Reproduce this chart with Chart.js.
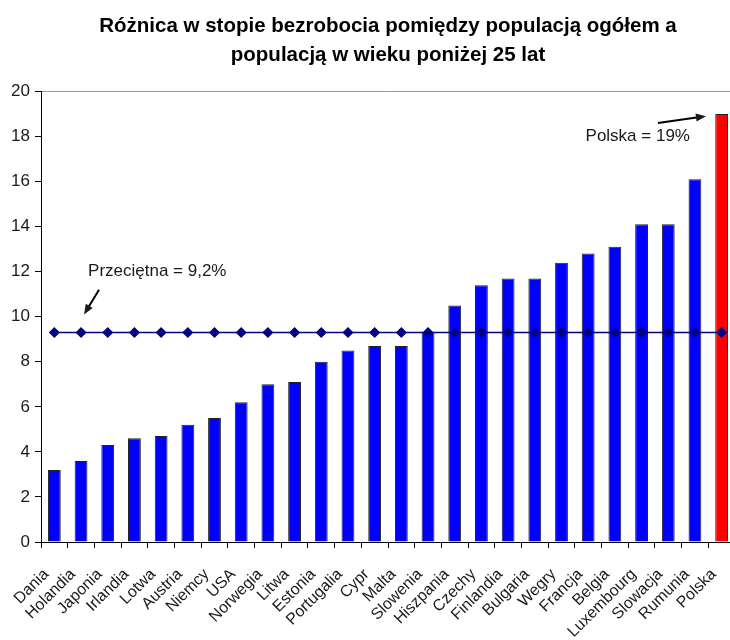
<!DOCTYPE html>
<html>
<head>
<meta charset="utf-8">
<script src="https://cdn.jsdelivr.net/npm/chart.js@4.4.0/dist/chart.umd.min.js"></script>
<style>
  html, body { margin: 0; padding: 0; background: #fff; overflow: hidden; }
</style>
</head>
<body>
<canvas id="chart" width="741" height="640"></canvas>
<script>
const countries = ['Dania', 'Holandia', 'Japonia', 'Irlandia', 'Lotwa', 'Austria', 'Niemcy', 'USA',
  'Norwegia', 'Litwa', 'Estonia', 'Portugalia', 'Cypr', 'Malta', 'Slowenia', 'Hiszpania', 'Czechy',
  'Finlandia', 'Bulgaria', 'Wegry', 'Francja', 'Belgia', 'Luxembourg', 'Slowacja', 'Rumunia', 'Polska'];
const gap = [3.2, 3.6, 4.3, 4.6, 4.7, 5.2, 5.5, 6.2, 7.0, 7.1, 8.0, 8.5, 8.7, 8.7, 9.3, 10.5, 11.4,
  11.7, 11.7, 12.4, 12.8, 13.1, 14.1, 14.1, 16.1, 19.0];
const average = countries.map(() => 9.3);
const yTicks = [0, 2, 4, 6, 8, 10, 12, 14, 16, 18, 20];

const FONT = '"Liberation Sans", Arial, sans-serif';

// strzałka z grotem na końcu
const drawArrow = (ctx, x1, y1, x2, y2) => {
  const a = Math.atan2(y2 - y1, x2 - x1);
  ctx.beginPath();
  ctx.moveTo(x1, y1);
  ctx.lineTo(x2 - 6 * Math.cos(a), y2 - 6 * Math.sin(a));
  ctx.stroke();
  ctx.beginPath();
  ctx.moveTo(x2, y2);
  ctx.lineTo(x2 - 10 * Math.cos(a) + 4 * Math.sin(a), y2 - 10 * Math.sin(a) - 4 * Math.cos(a));
  ctx.lineTo(x2 - 10 * Math.cos(a) - 4 * Math.sin(a), y2 - 10 * Math.sin(a) + 4 * Math.cos(a));
  ctx.closePath();
  ctx.fill();
};

const annotations = {
  id: 'annotations',
  afterDatasetsDraw(chart) {
    const { ctx, scales: { x, y } } = chart;
    ctx.save();
    ctx.fillStyle = '#1a1a1a';
    ctx.strokeStyle = '#000';
    ctx.lineWidth = 2;
    ctx.font = '17px ' + FONT;
    ctx.textBaseline = 'alphabetic';

    ctx.textAlign = 'left';
    ctx.fillText('Przeciętna = 9,2%', x.getPixelForValue(1) + 7, y.getPixelForValue(11.8));
    drawArrow(ctx, x.getPixelForValue(1) + 18, y.getPixelForValue(11.2),
      x.getPixelForValue(1) + 3, y.getPixelForValue(10.1));

    ctx.textAlign = 'right';
    ctx.fillText('Polska = 19%', x.getPixelForValue(24) - 5, y.getPixelForValue(17.8));
    drawArrow(ctx, x.getPixelForValue(24) - 37, y.getPixelForValue(18.6),
      x.getPixelForValue(24) + 11, y.getPixelForValue(18.9));
    ctx.restore();
  }
};

const ctx = document.getElementById('chart').getContext('2d');
new Chart(ctx, {
  data: {
    labels: countries,
    datasets: [
      {
        type: 'line',
        data: average,
        borderColor: '#000080',
        borderWidth: 1.5,
        pointStyle: 'rectRot',
        pointRadius: 4.5,
        pointBackgroundColor: '#000080',
        pointBorderColor: '#000080',
        order: 0,
      },
      {
        type: 'bar',
        data: gap,
        backgroundColor: countries.map((c) => (c === 'Polska' ? '#ff0000' : '#0000ff')),
        borderColor: '#222',
        borderWidth: 1,
        borderSkipped: 'bottom',
        categoryPercentage: 1,
        barPercentage: 0.48,
        order: 1,
      },
    ],
  },
  options: {
    responsive: false,
    animation: false,
    layout: { padding: 0 },
    plugins: {
      legend: { display: false },
      tooltip: { enabled: false },
      title: {
        display: true,
        fullSize: false,
        text: ['Różnica w stopie bezrobocia pomiędzy populacją ogółem a', 'populacją w wieku poniżej 25 lat'],
        color: '#000',
        font: { family: FONT, size: 20.5, weight: 'bold', lineHeight: 1.4 },
        padding: { top: 12, bottom: 22 },
      },
    },
    scales: {
      x: {
        offset: true,
        grid: { drawOnChartArea: false, color: '#000', tickLength: 6, offset: true },
        border: { color: '#000', width: 1 },
        ticks: {
          color: '#1a1a1a',
          font: { family: FONT, size: 16 },
          minRotation: 45,
          maxRotation: 45,
          padding: 17,
          labelOffset: -8,
          autoSkip: false,
        },
        afterFit: (scale) => {
          scale.height = 98;
          scale.paddingLeft = 0;
          scale.paddingRight = 0;
        },
      },
      y: {
        min: 0,
        max: 20,
        afterBuildTicks: (scale) => {
          scale.ticks = yTicks.map((v) => ({ value: v }));
        },
        grid: {
          drawOnChartArea: true,
          color: (c) => (c.tick && c.tick.value === 20 ? '#999' : 'rgba(0,0,0,0)'),
          tickColor: '#000',
          tickLength: 6,
        },
        border: { color: '#000', width: 1 },
        ticks: {
          color: '#1a1a1a',
          font: { family: FONT, size: 17 },
          padding: 5,
        },
        afterFit: (scale) => {
          scale.width = 41;
          scale.paddingTop = 0;
        },
      },
    },
  },
  plugins: [annotations],
});
</script>
</body>
</html>
